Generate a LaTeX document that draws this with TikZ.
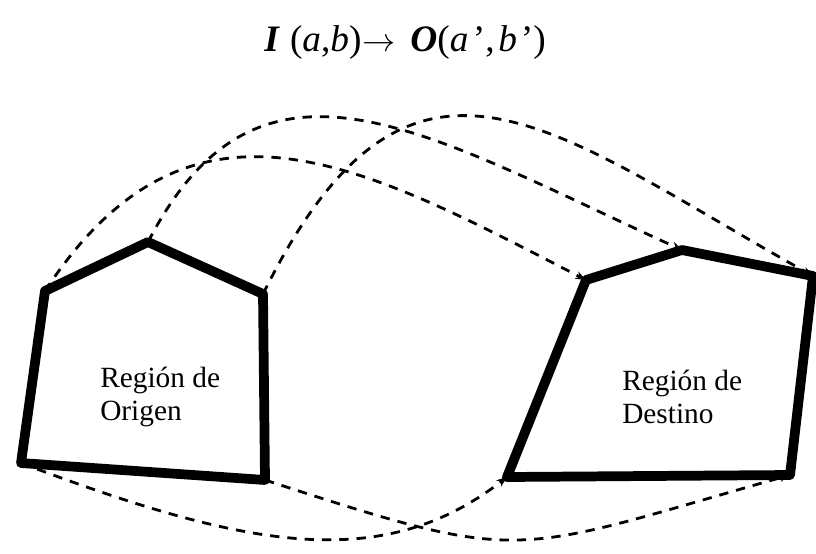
\documentclass[tikz,border=0pt]{standalone}
\usepackage{fontspec}
\setmainfont{Liberation Serif}
\usetikzlibrary{arrows.meta}
\begin{document}
\begin{tikzpicture}[x=0.75pt,y=-0.75pt,
  region/.style={line width=7.3pt,line join=round},
  link/.style={line width=2.1pt,dash pattern=on 7pt off 6pt,-{Stealth[length=8pt,width=6pt]}},
  lbl/.style={font=\fontsize{22}{25}\selectfont,align=left,anchor=west,inner sep=0pt}]
\useasboundingbox (0,0) rectangle (816,553);
% origin region
\coordinate (A1) at (45,291);
\coordinate (A2) at (148,242);
\coordinate (A3) at (263,294);
\coordinate (A4) at (265,480);
\coordinate (A5) at (21,463);
% destination region
\coordinate (B1) at (586,280);
\coordinate (B2) at (682,250);
\coordinate (B3) at (813,276);
\coordinate (B4) at (790,475);
\coordinate (B5) at (507,477);
\draw[region] (A1)--(A2)--(A3)--(A4)--(A5)--cycle;
\draw[region] (B1)--(B2)--(B3)--(B4)--(B5)--cycle;
\node[lbl] (orig) at (100,397) {Región de\\Origen};
\node[lbl] (dest) at (622,397) {Región de\\Destino};
\node[font=\fontsize{28}{31}\selectfont,anchor=base,inner sep=0pt] (title) at (405,51)
  {{\bfseries\itshape I}\hspace{0.3em}(\textit{a},\textit{b})\hspace{0.02em}$\rightarrow$\hspace{0.4em}{\bfseries\itshape O}(\textit{a}\hspace{0.12em}’,\hspace{0.1em}\textit{b}\hspace{0.1em}’)};
% mapping curves
\draw[link] (A1) .. controls (190,70) and (360,163) .. (B1);
\draw[link] (A2) .. controls (260,25) and (423,132) .. (B2);
\draw[link] (A3) .. controls (410,-3) and (550,129) .. (B3);
\draw[link] (A5) .. controls (243,547) and (381,575) .. (B5);
\draw[link] (A4) .. controls (529,566) and (507,555) .. (B4);
\end{tikzpicture}
\end{document}
